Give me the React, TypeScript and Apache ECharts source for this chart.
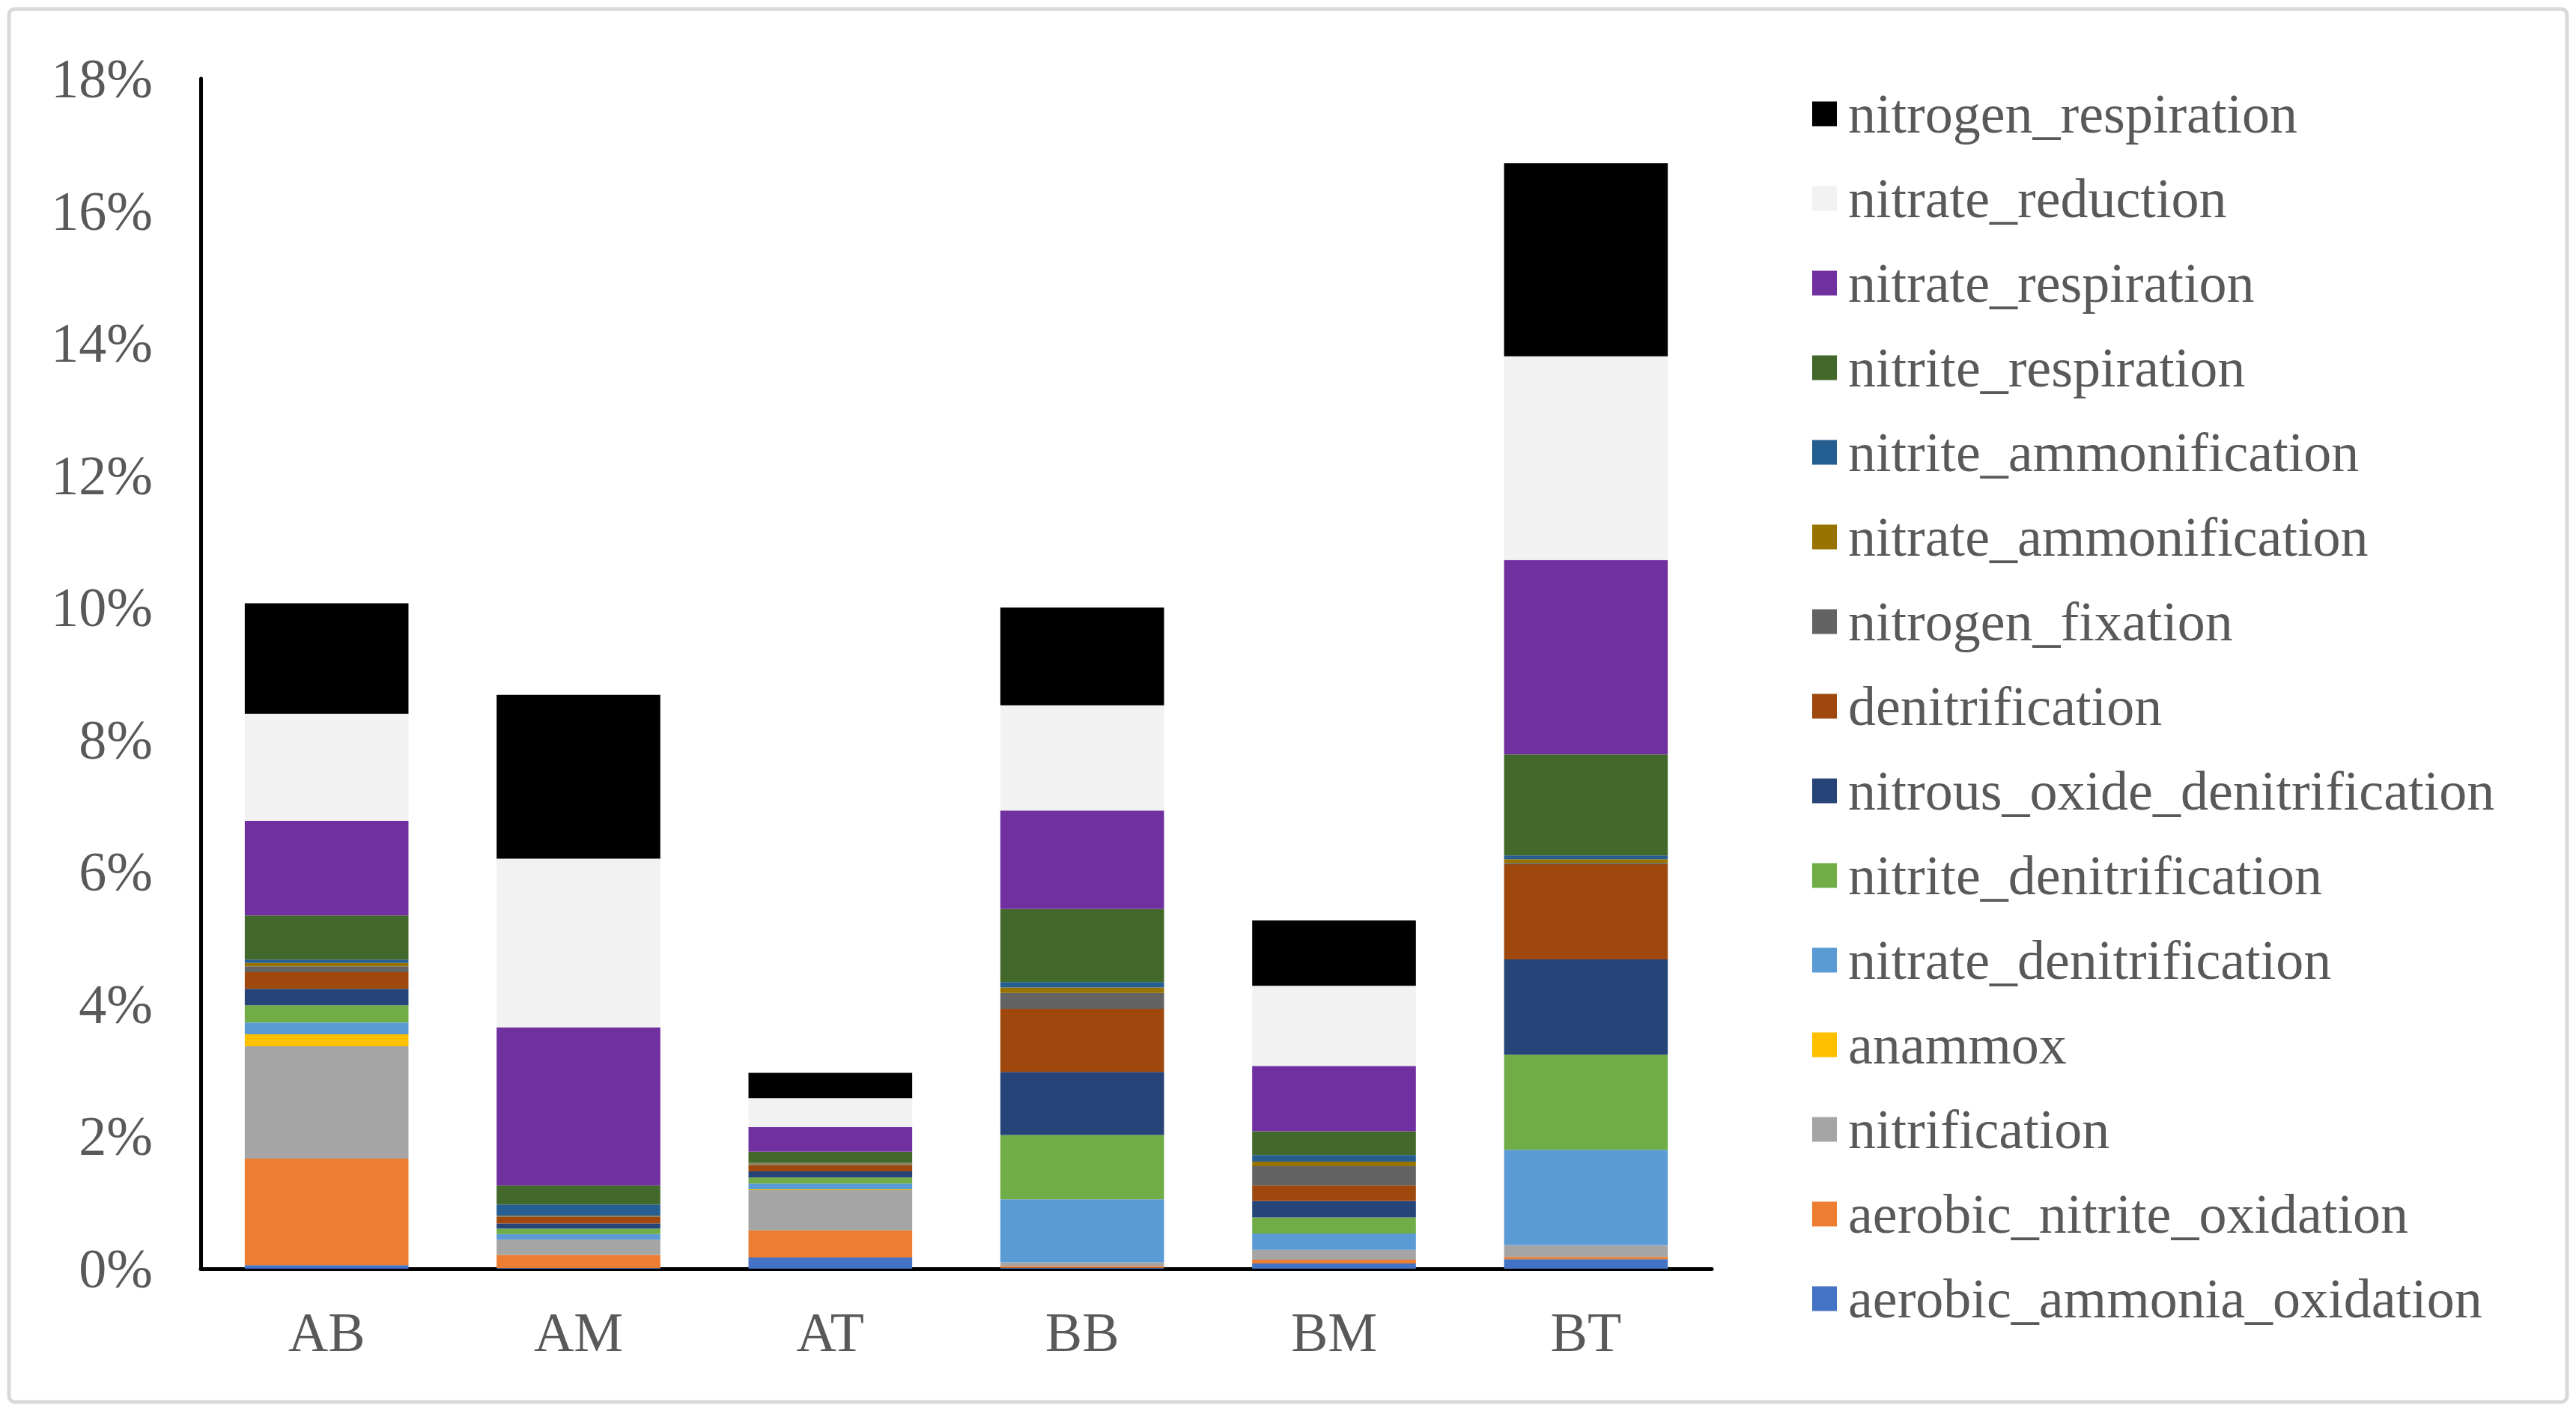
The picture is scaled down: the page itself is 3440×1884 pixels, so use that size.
import React, { useEffect, useRef } from "react";
import * as echarts from "echarts";

const categories = ["AB", "AM", "AT", "BB", "BM", "BT"];

// stacking order bottom -> top
const seriesNames = [
  "aerobic_ammonia_oxidation",
  "aerobic_nitrite_oxidation",
  "nitrification",
  "anammox",
  "nitrate_denitrification",
  "nitrite_denitrification",
  "nitrous_oxide_denitrification",
  "denitrification",
  "nitrogen_fixation",
  "nitrate_ammonification",
  "nitrite_ammonification",
  "nitrite_respiration",
  "nitrate_respiration",
  "nitrate_reduction",
  "nitrogen_respiration",
];

const seriesColors = [
  "#4472C4",
  "#ED7D31",
  "#A5A5A5",
  "#FFC000",
  "#5B9BD5",
  "#70AD47",
  "#264478",
  "#9E480E",
  "#636363",
  "#997300",
  "#255E91",
  "#43682B",
  "#7030A0",
  "#F2F2F2",
  "#000000",
];

// values in percent, per category AB, AM, AT, BB, BM, BT
const aerobicAmmoniaOxidation = [0.055, 0.01, 0.17, 0.014, 0.08, 0.145];
const aerobicNitriteOxidation = [1.61, 0.2, 0.41, 0.027, 0.057, 0.033];
const nitrification = [1.7, 0.23, 0.61, 0.055, 0.148, 0.18];
const anammox = [0.18, 0.0, 0.01, 0.0, 0.0, 0.0];
const nitrateDenitrification = [0.18, 0.083, 0.088, 0.955, 0.247, 1.44];
const nitriteDenitrification = [0.26, 0.083, 0.092, 0.97, 0.243, 1.44];
const nitrousOxideDenitrification = [0.25, 0.08, 0.092, 0.955, 0.25, 1.44];
const denitrification = [0.25, 0.095, 0.096, 0.955, 0.236, 1.44];
const nitrogenFixation = [0.09, 0.01, 0.015, 0.24, 0.29, 0.02];
const nitrateAmmonification = [0.05, 0.01, 0.01, 0.082, 0.068, 0.056];
const nitriteAmmonification = [0.05, 0.17, 0.008, 0.082, 0.099, 0.056];
const nitriteRespiration = [0.67, 0.29, 0.17, 1.105, 0.36, 1.53];
const nitrateRespiration = [1.43, 2.39, 0.37, 1.49, 0.99, 2.94];
const nitrateReduction = [1.62, 2.55, 0.44, 1.59, 1.21, 3.08];
const nitrogenRespiration = [1.67, 2.48, 0.38, 1.48, 0.99, 2.92];

const seriesValues = [
  aerobicAmmoniaOxidation,
  aerobicNitriteOxidation,
  nitrification,
  anammox,
  nitrateDenitrification,
  nitriteDenitrification,
  nitrousOxideDenitrification,
  denitrification,
  nitrogenFixation,
  nitrateAmmonification,
  nitriteAmmonification,
  nitriteRespiration,
  nitrateRespiration,
  nitrateReduction,
  nitrogenRespiration,
];

const yMin = 0;
const yMax = 18;
const yInterval = 2;

const FONT = "Liberation Serif";
const TEXT_COLOR = "#595959";

export default function App() {
  const ref = useRef<HTMLDivElement>(null);

  useEffect(() => {
    document.body.style.margin = "0";
    document.body.style.overflow = "hidden";
    if (!ref.current) return;
    const chart = echarts.init(ref.current, undefined, { renderer: "svg" });

    const series = seriesNames.map((name, i) => ({
      name,
      type: "bar",
      stack: "total",
      data: seriesValues[i],
      barCategoryGap: "35%",
      itemStyle: { color: seriesColors[i] },
      emphasis: { disabled: true },
    }));

    chart.setOption({
      animation: false,
      backgroundColor: "#FFFFFF",
      textStyle: { fontFamily: FONT },
      graphic: [
        {
          type: "rect",
          shape: { x: 12, y: 12, width: 3416, height: 1860, r: 8 },
          style: { fill: "none", stroke: "#D9D9D9", lineWidth: 5 },
          silent: true,
          z: -10,
        },
      ],
      grid: {
        left: 268,
        top: 105,
        right: 1154,
        bottom: 190,
        containLabel: false,
      },
      legend: {
        orient: "vertical",
        left: 2415,
        top: 107,
        data: [...seriesNames].reverse(),
        itemWidth: 33,
        itemHeight: 33,
        itemGap: 33,
        icon: "rect",
        selectedMode: false,
        textStyle: {
          fontFamily: FONT,
          fontSize: 74,
          color: TEXT_COLOR,
          lineHeight: 80,
          padding: [0, 0, 0, 10],
        },
      },
      xAxis: {
        type: "category",
        data: categories,
        axisLine: { show: true, lineStyle: { color: "#000000", width: 5 } },
        axisTick: { show: false },
        axisLabel: {
          fontFamily: FONT,
          fontSize: 74,
          color: TEXT_COLOR,
          margin: 48,
        },
        splitLine: { show: false },
      },
      yAxis: {
        type: "value",
        min: yMin,
        max: yMax,
        interval: yInterval,
        axisLine: { show: true, lineStyle: { color: "#000000", width: 5 } },
        axisTick: { show: false },
        splitLine: { show: false },
        axisLabel: {
          fontFamily: FONT,
          fontSize: 74,
          color: TEXT_COLOR,
          margin: 64,
          formatter: "{value}%",
        },
      },
      series,
    });

    return () => {
      chart.dispose();
    };
  }, []);

  return <div ref={ref} style={{ width: "3440px", height: "1884px" }} />;
}
